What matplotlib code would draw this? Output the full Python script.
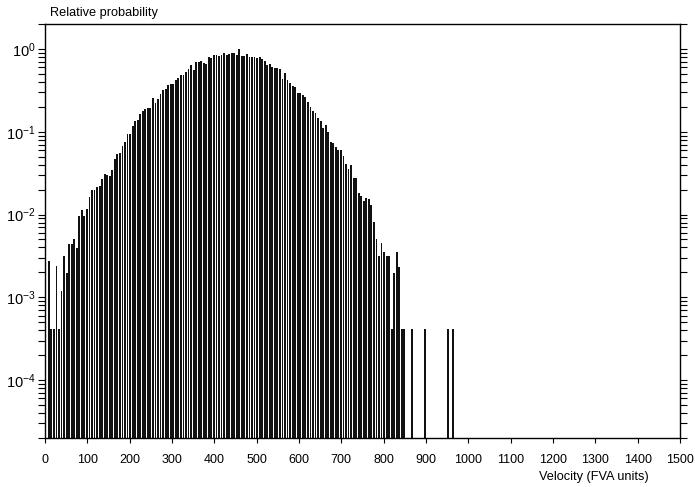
import numpy as np
import matplotlib
matplotlib.use("Agg")
import matplotlib.pyplot as plt
from matplotlib.ticker import FixedLocator, LogLocator, NullFormatter

plt.rcParams["font.family"] = ["Liberation Sans", "DejaVu Sans"]
plt.rcParams["mathtext.fontset"] = "custom"
plt.rcParams["mathtext.rm"] = "Liberation Sans"

# Histogram of velocities: bins 6 FVA units wide, value = relative probability
bin_width = 6
bin_index = np.arange(1, 161)
probability = [
    0.0027, 0.00039, 0.00039, 0.00234, 0.00039, 0.00116, 0.0031, 0.00195, 0.00437, 0.00437,
    0.00508, 0.00391, 0.00957, 0.0113, 0.00957, 0.0115, 0.0162, 0.0195, 0.0200, 0.0214,
    0.0223, 0.0268, 0.0305, 0.0302, 0.0289, 0.0346, 0.0464, 0.0532, 0.0547, 0.0681,
    0.0760, 0.0947, 0.0947, 0.116, 0.133, 0.139, 0.164, 0.178, 0.188, 0.191,
    0.191, 0.252, 0.223, 0.245, 0.289, 0.316, 0.325, 0.363, 0.380, 0.380,
    0.416, 0.443, 0.490, 0.490, 0.522, 0.573, 0.645, 0.557, 0.700, 0.687,
    0.720, 0.676, 0.658, 0.803, 0.775, 0.848, 0.837, 0.825, 0.837, 0.889,
    0.837, 0.865, 0.889, 0.889, 0.848, 1.000, 0.819, 0.825, 0.872, 0.803,
    0.796, 0.788, 0.775, 0.803, 0.754, 0.720, 0.645, 0.658, 0.611, 0.589,
    0.589, 0.578, 0.428, 0.508, 0.424, 0.386, 0.353, 0.346, 0.297, 0.297,
    0.279, 0.263, 0.230, 0.199, 0.178, 0.167, 0.148, 0.135, 0.111, 0.119,
    0.100, 0.0760, 0.0740, 0.0645, 0.0599, 0.0599, 0.0504, 0.0412, 0.0353, 0.0397,
    0.0273, 0.0273, 0.0181, 0.0167, 0.0144, 0.0159, 0.0152, 0.0129, 0.00819, 0.00501,
    0.0031, 0.00457, 0.00352, 0.0031, 0.0031, 0.00039, 0.00195, 0.00352, 0.00229, 0.00039,
    0.00039, 0.0, 0.0, 0.00039, 0.0, 0.0, 0.0, 0.0, 0.00039, 0.0,
    0.0, 0.0, 0.0, 0.0, 0.0, 0.0, 0.0, 0.00039, 0.0, 0.00039,
]
velocity = bin_index * bin_width + bin_width / 2

x_ticks = list(range(0, 1501, 100))
y_decades = [1e-4, 1e-3, 1e-2, 1e-1, 1e0]
y_tick_labels = [r"$\mathregular{10^{-4}}$", r"$\mathregular{10^{-3}}$",
                 r"$\mathregular{10^{-2}}$", r"$\mathregular{10^{-1}}$",
                 r"$\mathregular{10^{0}}$"]

fig = plt.figure(figsize=(6.95, 4.87), dpi=100)
ax = fig.add_axes([45 / 695, 1 - 438 / 487, 635 / 695, 414 / 487])
ax.set_yscale("log")

prob = np.array(probability)
mask = prob > 0
ax.bar(velocity[mask], prob[mask], width=4.3, bottom=2e-5, color="#111111",
       linewidth=0)

ax.set_xlim(0, 1500)
ax.set_ylim(2e-5, 2.0)

ax.set_xticks(x_ticks)
ax.set_xticklabels([str(t) for t in x_ticks], fontsize=9)
ax.tick_params(axis="x", direction="out", length=3.6, width=0.8, pad=8,
               colors="black")

ax.yaxis.set_major_locator(FixedLocator(y_decades))
ax.set_yticklabels(y_tick_labels, fontsize=10.5)
ax.yaxis.set_minor_locator(LogLocator(base=10, subs=np.arange(2, 10), numticks=20))
ax.yaxis.set_minor_formatter(NullFormatter())
ax.tick_params(axis="y", which="both", direction="out", length=5, width=0.8,
               left=True, right=True, pad=2)

for side in ["left", "right", "top", "bottom"]:
    ax.spines[side].set_linewidth(1.0)
    ax.spines[side].set_color("black")

fig.text(50 / 695, 1 - 13.3 / 487, "Relative probability", fontsize=9.2,
         ha="left", va="center")
fig.text(539 / 695, 1 - 476.7 / 487, "Velocity (FVA units)", fontsize=9.2,
         ha="left", va="center")

fig.savefig("out.png", dpi=100)
